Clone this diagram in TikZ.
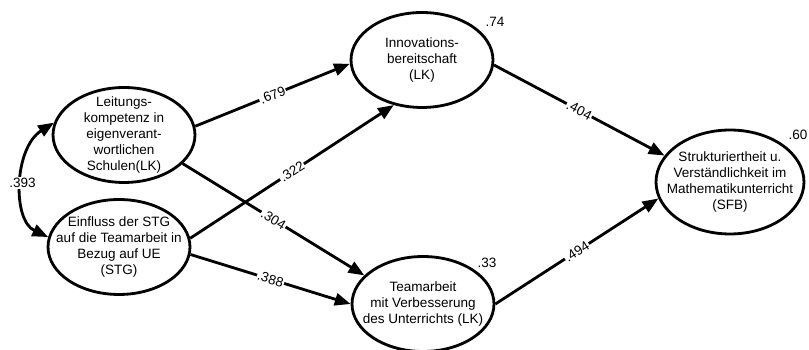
\documentclass[tikz,border=0pt]{standalone}
\usepackage{fontspec}
\setmainfont{Liberation Sans}
\usetikzlibrary{shapes.geometric,arrows.meta}
\tikzset{
var/.style={
  ellipse,
  draw,
  line width=1.6pt,
  minimum width=2.84cm,
  minimum height=1.9cm,
  inner sep=-9pt,
  align=center,
  font=\fontsize{7.7}{9.1}\selectfont
  },
pfad/.style={-{Triangle[length=9pt,width=7pt]},line width=1.6pt},
kovar/.style={{Triangle[length=9pt,width=7pt]}-{Triangle[length=9pt,width=7pt]},line width=1.6pt},
koef/.style={sloped,fill=white,inner sep=0.5pt,font=\fontsize{7.7}{9.1}\selectfont},
rq/.style={font=\fontsize{7.7}{9.1}\selectfont}
}

\begin{document}
\begin{tikzpicture}[x=0.02cm,y=-0.02cm]
    \useasboundingbox (0,0) rectangle (809,350);

    \node [var] (lk) at (124,135) {Leitungs-\\kompetenz in\\eigenverant-\\wortlichen\\Schulen(LK)};
    \node [var] (stg) at (119,247) {Einfluss der STG\\auf die Teamarbeit in\\Bezug auf UE\\(STG)};
    \node [var] (inn) at (422,60) {Innovations-\\bereitschaft\\(LK)};
    \node [var] (team) at (423,304) {Teamarbeit\\mit Verbesserung\\des Unterrichts (LK)};
    \node [var, minimum width=2.96cm, minimum height=2.08cm] (sfb) at (730,182) {Strukturiertheit u.\\Verständlichkeit im\\Mathematikunterricht\\(SFB)};

    \node [rq] (r2inn) at (495,22) {.74};
    \node [rq] (r2team) at (487,263) {.33};
    \node [rq] (r2sfb) at (798,135) {.60};

    \draw [kovar] (lk.170) .. controls (14,148) and (12,220) .. node [koef, sloped=false] {.393} (stg.172);

    \draw [pfad] (lk.7) -- node [koef] {.679} (inn.183);
    \draw [pfad] (lk.-26) -- node [koef] {.304} (team.154);
    \draw [pfad] (stg.7) -- node [koef] {.322} (inn.238);
    \draw [pfad] (stg.-6) -- node [koef] {.388} (team.180);
    \draw [pfad] (inn.-4) -- node [koef] {.404} (sfb.158);
    \draw [pfad] (team.0) -- node [koef] {.494} (sfb.193);

\end{tikzpicture}
\end{document}
